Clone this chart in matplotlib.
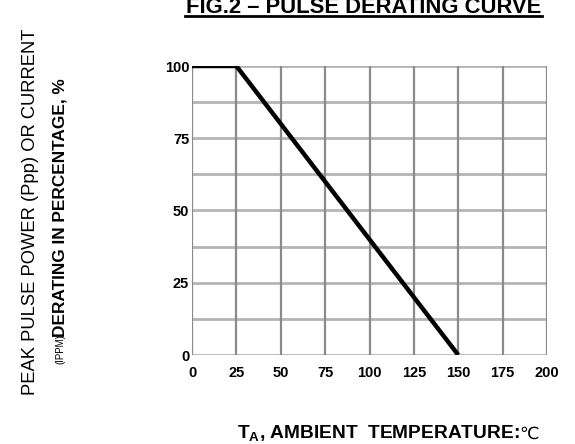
import matplotlib
matplotlib.use("Agg")
import matplotlib.pyplot as plt
from matplotlib.lines import Line2D

plt.rcParams['font.family'] = ['Liberation Sans', 'DejaVu Sans']

temps = [0, 25, 150]
derating = [100, 100, 0]
x_ticks = [0, 25, 50, 75, 100, 125, 150, 175, 200]
y_ticks = [0, 25, 50, 75, 100]
y_grid = [0, 12.5, 25, 37.5, 50, 62.5, 75, 87.5, 100]

W, H = 575, 444
fig = plt.figure(figsize=(W / 100, H / 100), dpi=100)
ax = fig.add_axes([192 / W, (H - 355) / H, (547 - 192) / W, (355 - 66) / H])

for s in ax.spines.values():
    s.set_visible(False)

for yv in y_grid:
    ax.axhline(yv, color='#b4b4b4', lw=2.0, zorder=1)
for xv in x_ticks:
    ax.axvline(xv, color='#8a8a8a', lw=1.6, zorder=2)

ax.plot(temps, derating, color='black', lw=3.2, zorder=5, solid_capstyle='butt')

ax.set_xlim(0, 200)
ax.set_ylim(0, 100)
ax.set_xticks(x_ticks)
ax.set_yticks(y_ticks)
ax.tick_params(length=0, labelsize=10.5)
ax.tick_params(axis='x', pad=8)
ax.tick_params(axis='y', pad=2)
for lab in ax.get_xticklabels() + ax.get_yticklabels():
    lab.set_fontweight('bold')

# Title with underline
fig.text(364 / W, 1 - 13 / H, 'FIG.2 – PULSE DERATING CURVE', ha='center', va='baseline',
         fontsize=15.8, fontweight='heavy')
fig.add_artist(Line2D([185 / W, 542 / W], [1 - 16.5 / H, 1 - 16.5 / H], color='black', lw=2.0,
                      transform=fig.transFigure))

# Y label
fig.text(31 / W, 1 - 212 / H, 'PEAK PULSE POWER (Ppp) OR CURRENT', rotation=90,
         ha='center', va='center', fontsize=13.2)
fig.text(60 / W, 1 - 364 / H, '(IPPM)', rotation=90, ha='center', va='bottom',
         fontsize=7)
fig.text(60 / W, 1 - 337 / H, 'DERATING IN PERCENTAGE, %', rotation=90,
         ha='center', va='bottom', fontsize=12.4, fontweight='bold')

# X label
t_x = fig.text(378 / W, 1 - 434 / H, r'T$_\mathregular{A}$, AMBIENT  TEMPERATURE:',
               ha='center', va='center', fontsize=13.8, fontweight='bold')
ax.annotate('℃', xy=(1, 0.5), xycoords=t_x, va='center', ha='left',
            fontsize=12.5, family='DejaVu Sans', annotation_clip=False)

fig.savefig('out.png', dpi=100)
